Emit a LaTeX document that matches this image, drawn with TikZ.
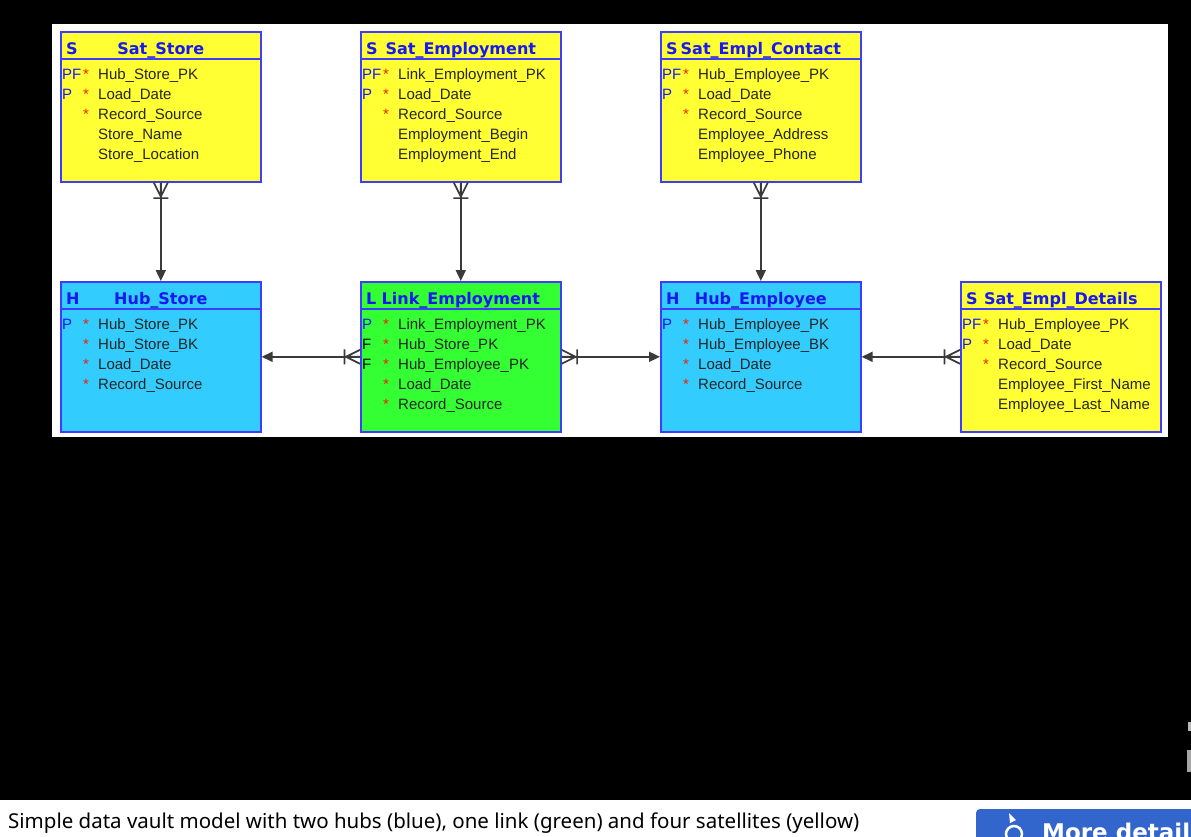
\documentclass[tikz,border=0pt]{standalone}
\usepackage{fontspec}
\setmainfont{Liberation Sans}
\newfontfamily\headfont{DejaVu Sans}
\newfontfamily\notefont{Noto Sans}
\usetikzlibrary{arrows.meta, positioning}

\definecolor{satyellow}{HTML}{FFFF33}
\definecolor{hubcyan}{HTML}{33CCFF}
\definecolor{linkgreen}{HTML}{33FF33}
\definecolor{edgeblue}{HTML}{3D3DFF}
\definecolor{keyblue}{HTML}{1818F0}
\definecolor{starred}{HTML}{EE2200}
\definecolor{connline}{HTML}{3A3A3A}
\definecolor{btnblue}{HTML}{3366CC}

\newcommand{\kb}[1]{\textcolor{keyblue}{#1}}

% header of an entity box: name, letter, title
\newcommand{\header}[3]{%
  \node[code] (#1-c) at ([shift={(6,23)}]#1.north west) {#2};
  \node[title] (#1-t) at ([shift={(0,23)}]#1.north) {#3};
  \draw[sep] ([shift={(0,28)}]#1.north west) -- ([shift={(0,28)}]#1.north east);
}
% attribute rows: key / star / field
\newcommand{\fields}[2]{%
  \foreach \k/\s/\f [count=\i from 0] in {#2} {
    \node[keytext] (#1-k\i) at ([shift={(2,48+20*\i)}]#1.north west) {\k};
    \node[star] (#1-s\i) at ([shift={(23,48+20*\i)}]#1.north west) {\s};
    \node[fieldtext] (#1-f\i) at ([shift={(38,48+20*\i)}]#1.north west) {\f};
  }
}
% crow's foot with bar, #1 = point on the box edge, #2 = direction
\newcommand{\crowfoot}[2]{%
  \begin{scope}[shift={(#1)}, rotate=#2]
    \draw[conn] (0,-7) -- (14,0) -- (0,7) (0,0) -- (14,0) (15.5,-7.5) -- (15.5,7.5);
  \end{scope}
}

\begin{document}
\begin{tikzpicture}[
    x=1pt, y=-1pt,
    entity/.style={draw=edgeblue, line width=1.6pt, minimum width=200pt,
      minimum height=150pt, anchor=north west, inner sep=0pt},
    sat/.style={entity, fill=satyellow},
    hub/.style={entity, fill=hubcyan},
    lnk/.style={entity, fill=linkgreen},
    sep/.style={draw=edgeblue, line width=1.6pt},
    title/.style={font=\headfont\bfseries\fontsize{16}{18}\selectfont,
      text=keyblue, anchor=base, inner sep=0pt},
    code/.style={title, anchor=base west},
    keytext/.style={font=\fontsize{15}{17}\selectfont, anchor=base west, inner sep=0pt},
    star/.style={keytext, text=starred},
    fieldtext/.style={keytext, text=black!85},
    conn/.style={draw=connline, line width=1.7pt},
    tip/.style={-{Triangle[length=11pt, width=10pt]}},
    caption/.style={font=\notefont\fontsize{20.5}{24}\selectfont, anchor=base west, inner sep=0pt},
    btntext/.style={font=\headfont\bfseries\fontsize{23}{27}\selectfont, text=white,
      anchor=base west, inner sep=0pt}
]
\useasboundingbox (0,0) rectangle (1191,836);
\fill[black] (0,0) rectangle (1191,800);
\fill[white] (0,800) rectangle (1191,836);
\fill[white] (52,24) rectangle (1168,437);

% satellites on top
\node[sat] (satstore) at (60,31) {};
\node[sat] (satemp) at (360,31) {};
\node[sat] (satcontact) at (660,31) {};
% hubs, link and the last satellite
\node[hub] (hubstore) at (60,281) {};
\node[lnk] (linkemp) at (360,281) {};
\node[hub] (hubemp) at (660,281) {};
\node[sat] (satdetails) at (960,281) {};

\header{satstore}{S}{Sat\_Store}
\fields{satstore}{\kb{PF}/*/Hub\_Store\_PK, \kb{P}/*/Load\_Date, /*/Record\_Source,
  //Store\_Name, //Store\_Location}

\header{satemp}{S}{Sat\_Employment}
\fields{satemp}{\kb{PF}/*/Link\_Employment\_PK, \kb{P}/*/Load\_Date, /*/Record\_Source,
  //Employment\_Begin, //Employment\_End}

\header{satcontact}{S}{Sat\_Empl\_Contact}
\fields{satcontact}{\kb{PF}/*/Hub\_Employee\_PK, \kb{P}/*/Load\_Date, /*/Record\_Source,
  //Employee\_Address, //Employee\_Phone}

\header{hubstore}{H}{Hub\_Store}
\fields{hubstore}{\kb{P}/*/Hub\_Store\_PK, /*/Hub\_Store\_BK, /*/Load\_Date,
  /*/Record\_Source}

\header{linkemp}{L}{Link\_Employment}
\fields{linkemp}{\kb{P}/*/Link\_Employment\_PK, F/*/Hub\_Store\_PK, F/*/Hub\_Employee\_PK,
  /*/Load\_Date, /*/Record\_Source}

\header{hubemp}{H}{Hub\_Employee}
\fields{hubemp}{\kb{P}/*/Hub\_Employee\_PK, /*/Hub\_Employee\_BK, /*/Load\_Date,
  /*/Record\_Source}

\header{satdetails}{S}{Sat\_Empl\_Details}
\fields{satdetails}{\kb{PF}/*/Hub\_Employee\_PK, \kb{P}/*/Load\_Date, /*/Record\_Source,
  //Employee\_First\_Name, //Employee\_Last\_Name}

% connectors
\draw[conn, tip] (satstore.south) -- (hubstore.north);
\draw[conn, tip] (satemp.south) -- (linkemp.north);
\draw[conn, tip] (satcontact.south) -- (hubemp.north);
\draw[conn, tip] (linkemp.west) -- (hubstore.east);
\draw[conn, tip] (linkemp.east) -- (hubemp.west);
\draw[conn, tip] (satdetails.west) -- (hubemp.east);

\crowfoot{satstore.south}{-90}
\crowfoot{satemp.south}{-90}
\crowfoot{satcontact.south}{-90}
\crowfoot{linkemp.west}{180}
\crowfoot{linkemp.east}{0}
\crowfoot{satdetails.west}{180}

% page around the picture
\node[caption] (cap) at (8,828) {Simple data vault model with two hubs (blue), one link (green) and four satellites (yellow)};
\fill[gray!55] (1188,722) rectangle (1191,731);
\fill[gray!70] (1187,750) rectangle (1191,772);
\begin{scope}
  \clip (0,0) rectangle (1191,836);
  \fill[btnblue, rounded corners=4pt] (976,809) rectangle (1240,870);
  \draw[white, line width=2.5pt] (1014,834) circle (8);
  \fill[white] (1009,813) -- (1016,820) -- (1010,823) -- cycle;
  \node[btntext] (more) at (1042,840) {More details};
\end{scope}
\end{tikzpicture}
\end{document}
